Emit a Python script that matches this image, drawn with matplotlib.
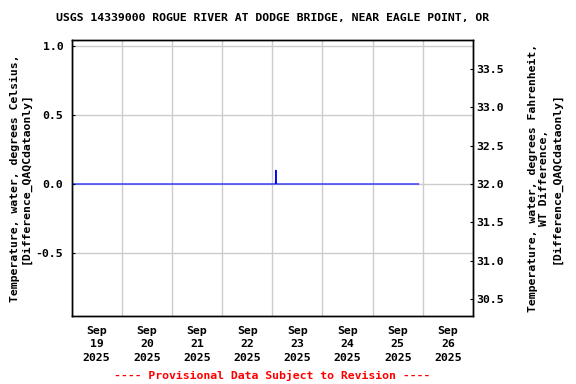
import pandas as pd
import matplotlib
matplotlib.use("Agg")
import matplotlib.pyplot as plt

# Datos (diferencia QAQC, grados Celsius)
fechas = ["2025-09-19 00:00", "2025-09-23 01:30", "2025-09-23 01:45",
          "2025-09-23 02:00", "2025-09-25 22:00"]
valores = [0.0, 0.0, 0.1, 0.0, 0.0]

dias = pd.date_range("2025-09-19", "2025-09-27", freq="D")
etiquetas_dias = pd.date_range("2025-09-19 12:00", "2025-09-26 12:00", freq="D")
ticks_c = [-0.5, 0.0, 0.5, 1.0]
ticks_f = [30.5, 31.0, 31.5, 32.0, 32.5, 33.0, 33.5]

titulo = "USGS 14339000 ROGUE RIVER AT DODGE BRIDGE, NEAR EAGLE POINT, OR"
lineas_izq = ["Temperature, water, degrees Celsius,", "[Difference_QAQCdataonly]"]
lineas_der = ["Temperature, water, degrees Fahrenheit,", "WT Difference,",
              "[Difference_QAQCdataonly]"]
aviso = "---- Provisional Data Subject to Revision ----"

fuente = dict(family="DejaVu Sans Mono", weight="bold", size=8.25)

fig = plt.figure(figsize=(5.76, 3.84), dpi=100)
izq, der, arr, abj = 71.5, 473.0, 39.7, 316.0
ax = fig.add_axes([izq / 576, 1 - abj / 384, (der - izq) / 576, (abj - arr) / 384])

x = pd.to_datetime(fechas)
ax.plot(x, valores, color="#0000ff", linewidth=0.8)

ymin, ymax = -0.957, 1.046
ax.set_ylim(ymin, ymax)
ax.set_xlim(dias[0], dias[-1])

# Rejilla en medianoche, etiquetas al mediodia
ax.set_xticks(dias)
ax.set_xticklabels([])
ax.set_xticks(etiquetas_dias, minor=True)
etiquetas = ax.set_xticklabels([f"{d:%b}\n{d.day}\n{d.year}" for d in etiquetas_dias],
                               minor=True, **fuente)
for t in etiquetas:
    t.set_linespacing(1.45)
ax.tick_params(axis="x", which="both", length=0, pad=7)
ax.xaxis.grid(True, which="major", color="#cccccc", linewidth=1.0)

ax.set_yticks(ticks_c)
ax.set_yticklabels([f"{t:.1f}" for t in ticks_c], **fuente)
ax.tick_params(axis="y", direction="in", length=2.5, pad=6)
ax.yaxis.grid(True, color="#cccccc", linewidth=1.0)
ax.set_axisbelow(True)

ax2 = ax.twinx()
ax2.set_ylim(32 + 1.8 * ymin, 32 + 1.8 * ymax)
ax2.set_yticks(ticks_f)
ax2.set_yticklabels([f"{t:.1f}" for t in ticks_f], **fuente)
ax2.tick_params(axis="y", direction="in", length=2.5, pad=2.5)

for a in (ax, ax2):
    for s in a.spines.values():
        s.set_linewidth(1.0)
        s.set_color("black")

centro_x = (izq + der) / 2 / 576
centro_y = 1 - (arr + abj) / 2 / 384
for px, linea in zip([15, 26], lineas_izq):
    fig.text(px / 576, centro_y, linea, rotation=90, ha="center", va="center", **fuente)
for px, linea in zip([532.5, 544.5, 556.5], lineas_der):
    fig.text(px / 576, centro_y, linea, rotation=90, ha="center", va="center", **fuente)

fig.text(centro_x, 1 - 18 / 384, titulo, ha="center", va="center", **fuente)
fig.text(centro_x, 1 - 375 / 384, aviso, ha="center", va="center", color="red", **fuente)

fig.savefig("out.png", dpi=100)
plt.close(fig)
